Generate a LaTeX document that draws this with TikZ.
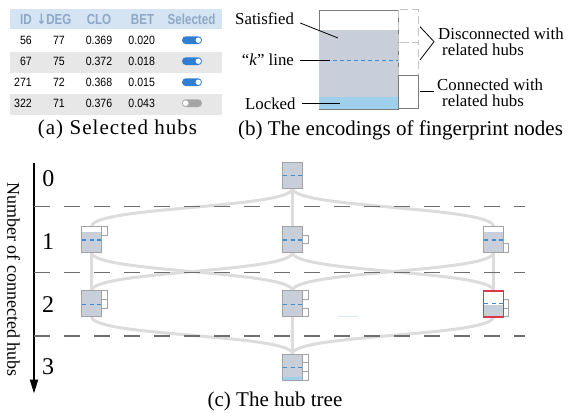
\documentclass[tikz,border=0pt]{standalone}
\usepackage{fontspec}
\setmainfont{Liberation Serif}
\newfontfamily\tabfont[FakeStretch=0.88]{Liberation Sans}
\newfontfamily\headfont[FakeStretch=0.8]{Liberation Sans}
\newfontfamily\arrowfont[FakeStretch=0.8]{DejaVu Sans}
\usetikzlibrary{calc,arrows.meta}
\pgfdeclarelayer{bg}
\pgfsetlayers{bg,main}

\definecolor{hubfill}{HTML}{C9CEDB}
\definecolor{hubline}{HTML}{A3A3A3}
\definecolor{kblue}{HTML}{3D8ED6}
\definecolor{lockblue}{HTML}{A0CFEC}
\definecolor{linkgray}{HTML}{DCDCDC}
\definecolor{lvlgray}{HTML}{6E6E6E}
\definecolor{hubred}{HTML}{D8394C}
\definecolor{headbg}{HTML}{D5E4F2}
\definecolor{headtxt}{HTML}{8EA8C6}
\definecolor{rowgray}{HTML}{E7E7E7}
\definecolor{togblue}{HTML}{2F7ED1}
\definecolor{toggray}{HTML}{A5A5A5}
\definecolor{fpline}{HTML}{7A7A7A}
\definecolor{slotdash}{HTML}{C4C4C4}

\tikzset{
  thead/.style={font=\headfont\bfseries\fontsize{14.5}{16}\selectfont, text=headtxt, inner sep=0pt},
  tcell/.style={font=\tabfont\fontsize{12}{14}\selectfont, inner sep=0pt},
  pill/.style={minimum width=20pt, minimum height=7.8pt, inner sep=0pt, rounded corners=3.9pt},
  lbl/.style={font=\fontsize{16.8}{19}\selectfont, inner sep=0pt},
  captext/.style={font=\fontsize{21}{24}\selectfont, inner sep=0pt},
  lvlnum/.style={font=\fontsize{24}{26}\selectfont, inner sep=0pt},
  leader/.style={draw=black, line width=0.8pt},
  hub/.style={draw=hubline, fill=hubfill, line width=0.9pt, minimum width=20pt,
    minimum height=26pt, inner sep=0pt, outer sep=0pt},
  slotbox/.style={draw=hubline, fill=white, line width=0.9pt},
  kline/.style={draw=kblue, line width=1.3pt, dash pattern=on 4pt off 3.5pt},
  link/.style={draw=linkgray, line width=3pt},
  levelline/.style={draw=lvlgray, line width=1.1pt, dash pattern=on 16pt off 14pt},
}

% a fingerprint node: box with its "k" line
\newcommand\hubnode[4][]{%
  \node[hub,#1] (#2) at (#3,#4) {};
  \draw[kline] ($(#2.west)+(0.7,0.5)$) -- ($(#2.east)+(-0.7,0.5)$);}
% one of the three connection slots beside a fingerprint node
\newcommand\hubslot[2]{%
  \draw[slotbox] ($(#1.north east)+(0,{(#2-1)*26/3})$) rectangle ++(5.5,{26/3});}
% white (unsatisfied) band at the top of a node
\newcommand\hubtop[2]{%
  \fill[white] ($(#1.north west)+(0.45,0.45)$) rectangle ($(#1.north east)+(-0.45,#2)$);}

\begin{document}
\begin{tikzpicture}[x=1pt,y=-1pt]
\useasboundingbox (0,0) rectangle (572,412);

% ---------------- (a) table of hubs ----------------
\fill[headbg] (10,9.5) rectangle (222,29.5);
\fill[rowgray] (10,52) rectangle (222,73);
\fill[rowgray] (10,94) rectangle (222,115);

\node[thead, anchor=base east] (hID) at (32,25) {ID};
\node[thead, anchor=base] (hDEG) at (54,25) {{\arrowfont\bfseries ↓}DEG};
\node[thead, anchor=base] (hCLO) at (99,25) {CLO};
\node[thead, anchor=base] (hBET) at (142.5,25) {BET};
\node[thead, anchor=base] (hSel) at (191.5,25) {Selected};

\foreach \id/\dg/\cl/\bt/\st [count=\i] in
  {56/77/0.369/0.020/1, 67/75/0.372/0.018/1, 271/72/0.368/0.015/1, 322/71/0.376/0.043/0} {
  \pgfmathsetmacro\yb{44.5+21*(\i-1)}
  \node[tcell, anchor=base east] (id\i) at (32,\yb) {\id};
  \node[tcell, anchor=base] (dg\i) at (59,\yb) {\dg};
  \node[tcell, anchor=base] (cl\i) at (99,\yb) {\cl};
  \node[tcell, anchor=base] (bt\i) at (141.7,\yb) {\bt};
  \ifnum\st=1
    \node[pill, fill=togblue] (tg\i) at (192,\yb-4.3) {};
    \fill[white] ($(tg\i.east)+(-3.9,0)$) circle (2.7);
  \else
    \node[pill, fill=toggray] (tg\i) at (192,\yb-4.3) {};
    \filldraw[fill=white, draw=toggray, line width=0.6pt] ($(tg\i.west)+(3.9,0)$) circle (3.3);
  \fi
}
\node[captext, anchor=base] (capa) at (117.5,134.5) {\addfontfeature{LetterSpace=5}(a) Selected hubs};

% ---------------- (b) encoding of a fingerprint node ----------------
\node[draw=fpline, fill=white, line width=0.8pt, minimum width=79pt, minimum height=99pt,
  inner sep=0pt] (fp) at (358.5,59.5) {};
\fill[hubfill] ($(fp.north west)+(0.4,20)$) rectangle ($(fp.south east)+(-0.4,-0.4)$);
\fill[lockblue] ($(fp.south west)+(0.4,-12)$) rectangle ($(fp.south east)+(-0.4,-0.4)$);
\draw[kline, line width=1.1pt, dash pattern=on 4pt off 3pt]
  ($(fp.north west)+(0.5,50.5)$) -- ($(fp.north east)+(-0.5,50.5)$);
\draw[slotdash, line width=0.9pt, dash pattern=on 8pt off 4pt] (fp.north east) rectangle ++(20,33);
\draw[slotdash, line width=0.9pt, dash pattern=on 8pt off 4pt] ($(fp.north east)+(0,33)$) rectangle ++(20,33);
\draw[fpline, line width=0.8pt] ($(fp.north east)+(0,66)$) rectangle ++(20,33);

\node[lbl, anchor=base west] (sat) at (235,25) {Satisfied};
\node[lbl, anchor=base west] (kl) at (241.7,66) {“\textit{k}” line};
\node[lbl, anchor=base west] (lk) at (245,109) {Locked};
\node[lbl, anchor=base west] (dis1) at (438,40) {Disconnected with};
\node[lbl, anchor=base west] (dis2) at (442,56) {related hubs};
\node[lbl, anchor=base west] (con1) at (437,90.5) {Connected with};
\node[lbl, anchor=base west] (con2) at (442,106) {related hubs};

\coordinate (satP) at (338,38);
\coordinate (kP) at (330,60);
\coordinate (lkP) at (340,103);
\draw[leader] ($(sat.base east)+(6,-2)$) -- (satP);
\draw[leader] ($(kl.base east)+(6,-6)$) -- (kP);
\draw[leader] ($(lk.base east)+(6,-6)$) -- (lkP);
\coordinate (brA) at (420,26.7);
\coordinate (brT) at (434,41.7);
\coordinate (brB) at (420,60);
\draw[leader] (brA) -- (brT) -- (brB);
\coordinate (cnA) at (420,91.7);
\coordinate (cnB) at (434,91.7);
\draw[leader] (cnA) -- (cnB);

\node[captext, anchor=base] (capb) at (400.5,135.5) {(b) The encodings of fingerprint nodes};

% ---------------- (c) hub tree ----------------
\coordinate (ax0) at (34,163.3);
\coordinate (ax1) at (34,393.5);
\draw[line width=2.2pt, -{Triangle[length=14pt,width=8pt]}] (ax0) -- (ax1);
\node[font=\fontsize{18}{20}\selectfont, inner sep=0pt, rotate=-90] (axl) at (13.5,279.5)
  {Number of connected hubs};

\node[lvlnum, anchor=base] (n0) at (48.3,186.5) {0};
\node[lvlnum, anchor=base] (n1) at (48,249) {1};
\node[lvlnum, anchor=base] (n2) at (48,312) {2};
\node[lvlnum, anchor=base] (n3) at (48,374) {3};

\foreach \yy in {206.7,272.3,336} \draw[levelline] (34,\yy) -- (525,\yy);

% nodes
\hubnode{r}{292.5}{175.3}
\hubnode{a}{91.7}{239.5}
\hubnode{b}{292.5}{239.5}
\hubnode{c}{493.4}{239.5}
\hubnode{ab}{91.7}{303.7}
\hubnode{ac}{292.5}{303.7}

\node[hub, fill=white, draw=none] (bc) at (493.4,303.7) {};
\fill[hubfill] ($(bc.west)+(0,1.3)$) rectangle (bc.south east);
\draw[kline] ($(bc.west)+(0.9,0)$) -- ($(bc.east)+(-0.9,0)$);

\node[hub] (abc) at (292.5,367) {};
\fill[lockblue] ($(abc.south west)+(0.45,-3.2)$) rectangle ($(abc.south east)+(-0.45,-0.45)$);
\draw[kline] ($(abc.west)+(0.7,0.5)$) -- ($(abc.east)+(-0.7,0.5)$);

\hubtop{a}{5}
\hubtop{c}{5}
\draw[kline] ($(a.west)+(0.7,0.5)$) -- ($(a.east)+(-0.7,0.5)$);
\draw[kline] ($(c.west)+(0.7,0.5)$) -- ($(c.east)+(-0.7,0.5)$);

\hubslot{a}{1}
\hubslot{b}{2}
\hubslot{c}{3}
\hubslot{ab}{1}\hubslot{ab}{2}
\hubslot{ac}{1}\hubslot{ac}{3}
\hubslot{abc}{1}\hubslot{abc}{2}\hubslot{abc}{3}
\begin{scope}[shift={(0.85,0)}]
\hubslot{bc}{2}\hubslot{bc}{3}
\end{scope}
% red frame of the highlighted node, on top of its slots
\draw[hubred, line width=1.7pt] (bc.north west) rectangle (bc.south east);

\draw[draw=lockblue!45, line width=0.8pt] (338,316) -- (358,316);

% links between levels
\begin{pgfonlayer}{bg}
  \draw[link] (r.south) .. controls +(0,20) and +(0,-20) .. (a.north);
  \draw[link] (r.south) -- (b.north);
  \draw[link] (r.south) .. controls +(0,20) and +(0,-20) .. (c.north);
  \draw[link] (a.south) -- (ab.north);
  \draw[link] (a.south) .. controls +(0,20) and +(0,-20) .. (ac.north);
  \draw[link] (b.south) .. controls +(0,20) and +(0,-20) .. (ab.north);
  \draw[link] (b.south) .. controls +(0,20) and +(0,-20) .. (bc.north);
  \draw[link] (c.south) .. controls +(0,20) and +(0,-20) .. (ac.north);
  \draw[link] (c.south) -- (bc.north);
  \draw[link] (ab.south) .. controls +(0,20) and +(0,-20) .. (abc.north);
  \draw[link] (ac.south) -- (abc.north);
  \draw[link] (bc.south) .. controls +(0,20) and +(0,-20) .. (abc.north);
\end{pgfonlayer}

\node[captext, anchor=base] (capc) at (275,406.5) {(c) The hub tree};
\end{tikzpicture}
\end{document}
